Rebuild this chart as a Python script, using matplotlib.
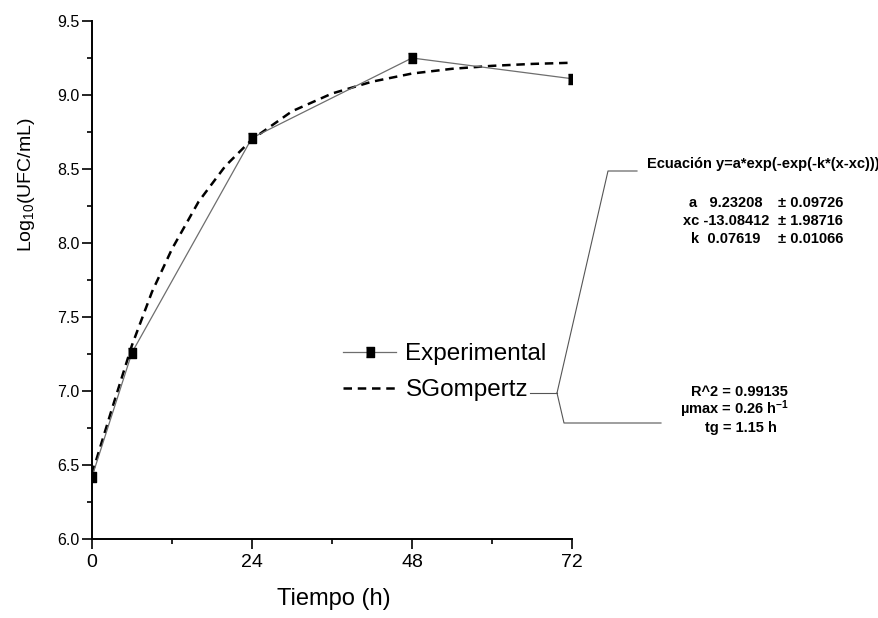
import matplotlib
matplotlib.use("Agg")
import matplotlib.pyplot as plt
import numpy as np
from matplotlib.lines import Line2D

# Datos experimentales (Log10 UFC/mL vs tiempo)
tiempo_exp = [0, 6, 24, 48, 72]
log_ufc_exp = [6.42, 7.26, 8.71, 9.25, 9.11]

# Curva de ajuste SGompertz
tiempo_fit = [0, 3, 6, 9, 12, 16, 20, 24, 30, 36, 42, 48, 54, 60, 66, 72]
log_ufc_fit = [6.44, 6.88, 7.31, 7.67, 7.96, 8.28, 8.52, 8.70, 8.89, 9.01,
               9.09, 9.145, 9.177, 9.197, 9.21, 9.218]

x_ticks = [0, 24, 48, 72]
y_ticks = [6.0, 6.5, 7.0, 7.5, 8.0, 8.5, 9.0, 9.5]

ecuacion = "Ecuación y=a*exp(-exp(-k*(x-xc)))"
parametros = [("a   9.23208", "± 0.09726"),
              ("xc -13.08412", "± 1.98716"),
              ("k  0.07619", "± 0.01066")]
estadisticos = ["R^2 = 0.99135", "µmax = 0.26 h$^{\\mathregular{-1}}$", "tg = 1.15 h"]

plt.rcParams['font.family'] = ['Liberation Sans', 'DejaVu Sans']
plt.rcParams['mathtext.default'] = 'regular'

W, H = 879, 618
fig = plt.figure(figsize=(W / 100, H / 100), dpi=100)


def px(x, y):
    return x / W, 1 - y / H


ax = fig.add_axes([92 / W, 1 - 539 / H, (572 - 92) / W, (539 - 21) / H])

marca = [(-0.38, -0.5), (0.38, -0.5), (0.38, 0.5), (-0.38, 0.5)]
ax.plot(tiempo_exp, log_ufc_exp, color='#6e6e6e', lw=0.9,
        marker=marca, markersize=7.5, markerfacecolor='black',
        markeredgecolor='black', zorder=3, label='Experimental')
ax.plot(tiempo_fit, log_ufc_fit, color='black', lw=1.8, dashes=(3.4, 2.3),
        zorder=2, label='SGompertz')

ax.set_xlim(0, 72)
ax.set_ylim(6.0, 9.5)
ax.set_xticks(x_ticks)
ax.set_xticks(np.arange(0, 73, 12), minor=True)
ax.set_yticks(y_ticks)
ax.set_yticks(np.arange(6.0, 9.51, 0.25), minor=True)
ax.set_yticklabels([f"{v:.1f}" for v in y_ticks], fontsize=11.5)
ax.set_xticklabels([str(v) for v in x_ticks], fontsize=14,
                   family=['Liberation Sans Narrow', 'Liberation Sans'])

for s in ['top', 'right']:
    ax.spines[s].set_visible(False)
for s in ['left', 'bottom']:
    ax.spines[s].set_linewidth(1.4)
    ax.spines[s].set_zorder(4)
ax.tick_params(which='major', length=7, width=1.2, pad=2)
ax.tick_params(which='minor', length=3.8, width=1.2)
ax.tick_params(axis='x', which='major', pad=4)

fig.text(*px(334, 599), "Tiempo (h)", fontsize=17, ha='center', va='center',
         family=['Liberation Sans Narrow', 'Liberation Sans'])
fig.text(*px(27, 185), "Log$_{10}$(UFC/mL)", fontsize=14, rotation=90,
         ha='center', va='center')

leg = ax.legend(loc='upper left', bbox_to_anchor=px(343, 343),
                bbox_transform=fig.transFigure, frameon=False, fontsize=17.5,
                borderpad=0, borderaxespad=0, handlelength=2.2,
                handletextpad=0.37, labelspacing=0.58, numpoints=1)

# Lineas de la llave hacia el recuadro de resultados
for xs, ys in [([530, 557], [393, 393]),
               ([557, 608, 637], [393, 171, 171]),
               ([557, 564, 661], [393, 423, 423])]:
    fx = [x / W for x in xs]
    fy = [1 - y / H for y in ys]
    fig.add_artist(Line2D(fx, fy, color='#555555', lw=0.8))

fig.text(*px(647, 164), ecuacion, fontsize=10.5, fontweight='bold',
         ha='left', va='center')
for i, (izq, der) in enumerate(parametros):
    y = 203 + i * 18
    fig.text(*px(726, y), izq, fontsize=10.5, fontweight='bold',
             ha='center', va='center')
    fig.text(*px(778, y), der, fontsize=10.5, fontweight='bold',
             ha='left', va='center')
for txt, (x, y) in zip(estadisticos, [(739, 392), (735, 409), (741, 428)]):
    fig.text(*px(x, y), txt, fontsize=10.5, fontweight='bold',
             ha='center', va='center')

fig.savefig("out.png", dpi=100)
